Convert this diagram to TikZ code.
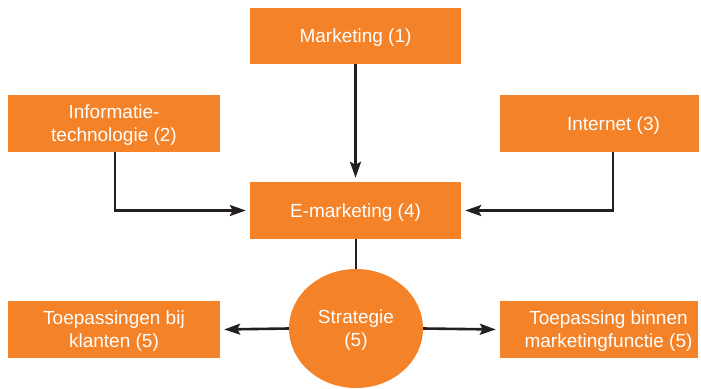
\documentclass[tikz,border=0pt]{standalone}
\usepackage{fontspec}
\setmainfont{Liberation Sans}
\usetikzlibrary{shapes.geometric,arrows.meta}
\definecolor{boxorange}{RGB}{244,130,40}
\definecolor{linedark}{RGB}{35,31,32}
\begin{document}
\begin{tikzpicture}[x=1pt,y=-1pt,
  box/.style={rectangle,fill=boxorange,draw=none,inner sep=0pt},
  txt/.style={text=white,align=center,font=\fontsize{19}{23}\selectfont,inner sep=0pt,yshift=-2pt},
  conn/.style={draw=linedark,line width=2.6pt},
  arr/.style={conn,-{Stealth[length=16pt,width=11pt,inset=3pt]},shorten >=4pt}]
\useasboundingbox (0,0) rectangle (701,388);
% boxes
\node[box,minimum width=211pt,minimum height=56pt] (mk) at (355.5,36) {};
\node[box,minimum width=212pt,minimum height=57pt] (it) at (114,123.5) {};
\node[box,minimum width=199pt,minimum height=57pt] (inet) at (599.5,123.5) {};
\node[box,minimum width=211pt,minimum height=57pt] (em) at (355.5,210.5) {};
\node[box,ellipse,minimum width=134pt,minimum height=119pt] (st) at (356,328.5) {};
\node[box,minimum width=212pt,minimum height=57pt] (tb) at (114,329.5) {};
\node[box,minimum width=198pt,minimum height=57pt] (tm) at (599,329.5) {};
% texts
\node[txt] (mkt) at (mk.center) {Marketing (1)};
\node[txt] (itt) at (it.center) {Informatie-\\technologie (2)};
\node[txt] (inett) at ([xshift=14pt]inet.center) {Internet (3)};
\node[txt] (emt) at (em.center) {E-marketing (4)};
\node[txt] (stt) at (st.center) {Strategie\\(5)};
\node[txt] (tbt) at (tb.center) {Toepassingen bij\\klanten (5)};
\node[txt] (tmt) at ([xshift=9.5pt]tm.center) {Toepassing binnen\\marketingfunctie (5)};
% connectors
\draw[arr] (mk.south) -- (em.north);
\coordinate (itc) at (115,210.5);
\draw[arr] (it.south -| itc) -- (itc) -- (em.west);
\coordinate (inc) at (613,210.5);
\draw[arr] (inet.south -| inc) -- (inc) -- (em.east);
\draw[conn] (em.south -| st.north) -- (st.north);
\draw[arr] (st.west) -- (tb.east);
\draw[arr] (st.east) -- (tm.west);
\end{tikzpicture}
\end{document}
